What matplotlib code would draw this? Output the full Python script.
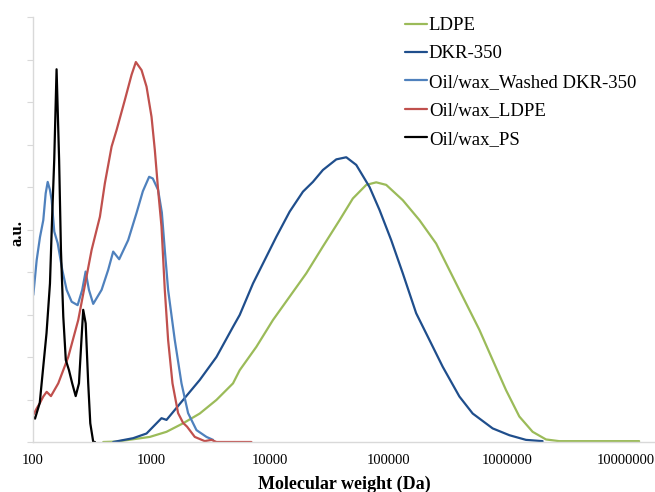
import matplotlib
matplotlib.use("Agg")
import matplotlib.pyplot as plt
from matplotlib.ticker import FixedLocator, FixedFormatter, NullLocator

plt.rcParams['font.family'] = ['Liberation Serif', 'DejaVu Serif']

# ---- data (molecular weight in Da, signal in a.u.) ----
ldpe_mw = [391, 507, 966, 1335, 1842, 2545, 3518, 4853, 5527, 7638, 10536, 14567,
           20130, 27772, 38380, 49680, 64420, 78180, 94900, 130920, 181000, 250100,
           303600, 419000, 578900, 749300, 971400, 1257000, 1627000, 2110000,
           2729000, 12870000]
ldpe_y = [0.0, 0.01, 0.12, 0.24, 0.44, 0.67, 0.99, 1.38, 1.69, 2.24, 2.87, 3.42,
          3.97, 4.6, 5.22, 5.73, 6.05, 6.11, 6.05, 5.69, 5.22, 4.67,
          4.2, 3.42, 2.64, 1.93, 1.22, 0.6, 0.24, 0.06,
          0.02, 0.02]

dkr_mw = [474, 699, 906, 1211, 1335, 1842, 2545, 3518, 4853, 5527, 7152, 9273,
          11254, 14567, 18854, 22875, 27772, 36020, 43706, 53050, 68660, 83350,
          104570, 130920, 169750, 219700, 284200, 392900, 508500, 749300,
          1036000, 1431000, 1975000]
dkr_y = [0.0, 0.09, 0.2, 0.56, 0.52, 0.99, 1.46, 2.0, 2.71, 2.99, 3.73, 4.36,
         4.83, 5.42, 5.89, 6.12, 6.4, 6.65, 6.70, 6.52, 6.0, 5.46,
         4.75, 3.97, 3.03, 2.40, 1.77, 1.07, 0.67, 0.32,
         0.16, 0.05, 0.02]

washed_mw = [100.6, 107.4, 114.5, 122.1, 127.9, 133.0, 139.0, 143.7, 151.1, 161.4,
             176.5, 192.1, 211.8, 237.8, 260.0, 277.7, 296.1, 321.8, 378.7, 430.3,
             474.1, 532.7, 634.2, 746.2, 843.3, 952.8, 1023, 1134, 1219, 1291,
             1377, 1567, 1785, 2029, 2387, 2898, 3295]
washed_y = [3.46, 4.28, 4.82, 5.22, 5.85, 6.12, 5.93, 5.69, 4.95, 4.68,
            4.05, 3.58, 3.30, 3.22, 3.58, 4.01, 3.58, 3.25, 3.58, 4.05,
            4.48, 4.3, 4.75, 5.39, 5.9, 6.24, 6.2, 5.93, 5.4, 4.52,
            3.58, 2.4, 1.38, 0.68, 0.28, 0.12, 0.05]

oil_ldpe_mw = [100.6, 107.4, 114.5, 122.1, 130.4, 141.7, 163.3, 198.2, 240.6, 312.0,
               366.4, 403.6, 459.7, 506.5, 594.9, 677.3, 736.2, 822.4, 906.0, 998.1,
               1064, 1134, 1211, 1291, 1377, 1499, 1671, 1842, 1990, 2310,
               2804, 3194, 3518, 6932]
oil_ldpe_y = [0.64, 0.79, 0.92, 1.07, 1.18, 1.08, 1.38, 2.0, 2.87, 4.52,
              5.30, 6.09, 6.95, 7.34, 8.05, 8.64, 8.94, 8.75, 8.36, 7.65,
              6.87, 5.93, 5.07, 3.58, 2.40, 1.38, 0.68, 0.45, 0.36, 0.12,
              0.02, 0.05, 0.0, 0.0]

ps_mw = [100, 104, 114, 122, 130, 139, 145, 151, 158, 166, 172, 180, 189, 201,
         214, 229, 244, 257, 265, 278, 292, 304, 322, 333]
ps_y = [0.59, 0.55, 0.92, 1.77, 2.56, 3.73, 5.3, 6.64, 8.77, 6.64, 4.52, 2.95,
        1.93, 1.69, 1.38, 1.08, 1.38, 2.48, 3.11, 2.79, 1.38, 0.44, 0.0, 0.0]

labels = ["LDPE", "DKR-350", "Oil/wax_Washed DKR-350", "Oil/wax_LDPE", "Oil/wax_PS"]
colors = ["#9bbb59", "#1f4e8c", "#4f81bd", "#c0504d", "#000000"]
xticks = [100, 1000, 10000, 100000, 1000000, 10000000]
xtick_labels = ["100", "1000", "10000", "100000", "1000000", "10000000"]

fig = plt.figure(figsize=(6.55, 4.92), dpi=100)
ax = fig.add_axes([33 / 655, 1 - 442 / 492, 1 - 33 / 655, (442 - 17) / 492])

series = [(ldpe_mw, ldpe_y), (dkr_mw, dkr_y), (washed_mw, washed_y),
          (oil_ldpe_mw, oil_ldpe_y), (ps_mw, ps_y)]
for (mx, my), lab, c in zip(series, labels, colors):
    ax.plot(mx, my, color=c, lw=1.6, label=lab, solid_capstyle='round',
            solid_joinstyle='round')

ax.set_xscale('log')
ax.set_xlim(100, 1.75e7)
ax.set_ylim(0, 10)
ax.xaxis.set_major_locator(FixedLocator(xticks))
ax.xaxis.set_major_formatter(FixedFormatter(xtick_labels))
ax.xaxis.set_minor_locator(NullLocator())
ax.tick_params(axis='x', length=0, pad=9, labelsize=10.5)
ax.yaxis.set_major_locator(FixedLocator(range(0, 11)))
ax.tick_params(axis='y', length=4, color='#d9d9d9', labelleft=False)

for s in ['top', 'right']:
    ax.spines[s].set_visible(False)
for s in ['left', 'bottom']:
    ax.spines[s].set_color('#d9d9d9')
    ax.spines[s].set_linewidth(1.0)

ax.set_xlabel("Molecular weight (Da)", fontsize=13, fontweight='bold', labelpad=6)
fig.text(18 / 655, 1 - 233 / 492, "a.u.", rotation=90, fontsize=12,
         fontweight='bold', ha='center', va='center')

leg = ax.legend(loc='upper left', bbox_to_anchor=(405 / 655, 1 - 17 / 492),
                bbox_transform=fig.transFigure, frameon=False, fontsize=13.5,
                handlelength=1.15, handletextpad=0.12, labelspacing=0.6,
                borderpad=0, borderaxespad=0)

fig.savefig("out.png", dpi=100)
